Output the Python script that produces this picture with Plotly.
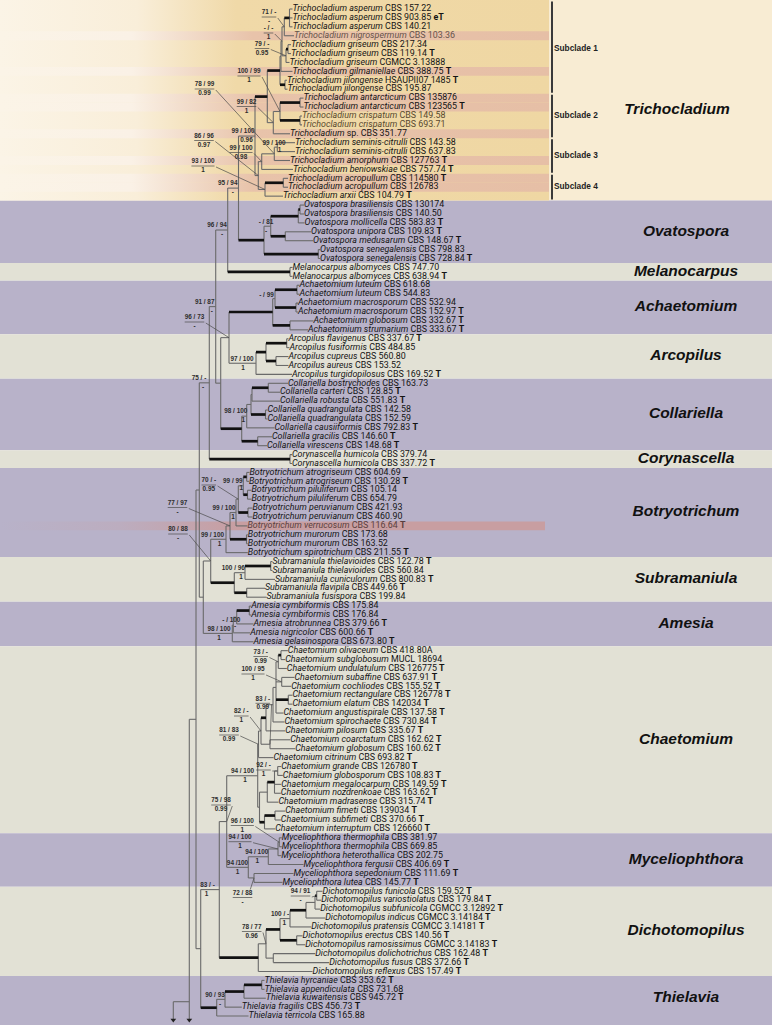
import plotly.graph_objects as go

# ---------------- data ----------------
taxa = [
    "Trichocladium asperum", "Trichocladium asperum", "Trichocladium asperum", "Trichocladium nigrospermum",
    "Trichocladium griseum", "Trichocladium griseum", "Trichocladium griseum", "Trichocladium gilmaniellae",
    "Trichocladium jilongense", "Trichocladium jilongense", "Trichocladium antarcticum", "Trichocladium antarcticum",
    "Trichocladium crispatum", "Trichocladium crispatum", "Trichocladium sp.", "Trichocladium seminis-citrulli",
    "Trichocladium seminis-citrulli", "Trichocladium amorphum", "Trichocladium beniowskiae", "Trichocladium acropullum",
    "Trichocladium acropullum", "Trichocladium arxii",
    "Ovatospora brasiliensis", "Ovatospora brasiliensis", "Ovatospora mollicella", "Ovatospora unipora",
    "Ovatospora medusarum", "Ovatospora senegalensis", "Ovatospora senegalensis",
    "Melanocarpus albomyces", "Melanocarpus albomyces",
    "Achaetomium luteum", "Achaetomium luteum", "Achaetomium macrosporum", "Achaetomium macrosporum",
    "Achaetomium globosum", "Achaetomium strumarium",
    "Arcopilus flavigenus", "Arcopilus fusiformis", "Arcopilus cupreus", "Arcopilus aureus", "Arcopilus turgidopilosus",
    "Collariella bostrychodes", "Collariella carteri", "Collariella robusta", "Collariella quadrangulata",
    "Collariella quadrangulata", "Collariella causiiformis", "Collariella gracilis", "Collariella virescens",
    "Corynascella humicola", "Corynascella humicola",
    "Botryotrichum atrogriseum", "Botryotrichum atrogriseum", "Botryotrichum piluliferum", "Botryotrichum piluliferum",
    "Botryotrichum peruvianum", "Botryotrichum peruvianum", "Botryotrichum verrucosum", "Botryotrichum murorum",
    "Botryotrichum murorum", "Botryotrichum spirotrichum",
    "Subramaniula thielavioides", "Subramaniula thielavioides", "Subramaniula cuniculorum", "Subramaniula flavipila",
    "Subramaniula fusispora",
    "Amesia cymbiformis", "Amesia cymbiformis", "Amesia atrobrunnea", "Amesia nigricolor", "Amesia gelasinospora",
    "Chaetomium olivaceum", "Chaetomium subglobosum", "Chaetomium undulatulum", "Chaetomium subaffine",
    "Chaetomium cochliodes", "Chaetomium rectangulare", "Chaetomium elatum", "Chaetomium angustispirale",
    "Chaetomium spirochaete", "Chaetomium pilosum", "Chaetomium coarctatum", "Chaetomium globosum",
    "Chaetomium citrinum", "Chaetomium grande", "Chaetomium globosporum", "Chaetomium megalocarpum",
    "Chaetomium nozdrenkoae", "Chaetomium madrasense", "Chaetomium fimeti", "Chaetomium subfimeti",
    "Chaetomium interruptum",
    "Myceliophthora thermophila", "Myceliophthora thermophila", "Myceliophthora heterothallica",
    "Myceliophthora fergusii", "Myceliophthora sepedonium", "Myceliophthora lutea",
    "Dichotomopilus funicola", "Dichotomopilus variostiolatus", "Dichotomopilus subfunicola", "Dichotomopilus indicus",
    "Dichotomopilus pratensis", "Dichotomopilus erectus", "Dichotomopilus ramosissimus", "Dichotomopilus dolichotrichus",
    "Dichotomopilus fusus", "Dichotomopilus reflexus",
    "Thielavia hyrcaniae", "Thielavia appendiculata", "Thielavia kuwaitensis", "Thielavia fragilis", "Thielavia terricola",
]
strains = [
    "CBS 157.22", "CBS 903.85", "CBS 140.21", "CBS 103.36", "CBS 217.34", "CBS 119.14", "CGMCC 3.13888",
    "CBS 388.75", "HSAUPII07 1485", "CBS 195.87", "CBS 135876", "CBS 123565", "CBS 149.58", "CBS 693.71",
    "CBS 351.77", "CBS 143.58", "CBS 637.83", "CBS 127763", "CBS 757.74", "CBS 114580", "CBS 126783", "CBS 104.79",
    "CBS 130174", "CBS 140.50", "CBS 583.83", "CBS 109.83", "CBS 148.67", "CBS 798.83", "CBS 728.84",
    "CBS 747.70", "CBS 638.94",
    "CBS 618.68", "CBS 544.83", "CBS 532.94", "CBS 152.97", "CBS 332.67", "CBS 333.67",
    "CBS 337.67", "CBS 484.85", "CBS 560.80", "CBS 153.52", "CBS 169.52",
    "CBS 163.73", "CBS 128.85", "CBS 551.83", "CBS 142.58", "CBS 152.59", "CBS 792.83", "CBS 146.60", "CBS 148.68",
    "CBS 379.74", "CBS 337.72",
    "CBS 604.69", "CBS 130.28", "CBS 105.14", "CBS 654.79", "CBS 421.93", "CBS 460.90", "CBS 116.64",
    "CBS 173.68", "CBS 163.52", "CBS 211.55",
    "CBS 122.78", "CBS 560.84", "CBS 800.83", "CBS 449.66", "CBS 199.84",
    "CBS 175.84", "CBS 176.84", "CBS 379.66", "CBS 600.66", "CBS 673.80",
    "CBS 418.80A", "MUCL 18694", "CBS 126775", "CBS 637.91", "CBS 155.52", "CBS 126778", "CBS 142034",
    "CBS 137.58", "CBS 730.84", "CBS 335.67", "CBS 162.62", "CBS 160.62", "CBS 693.82", "CBS 126780",
    "CBS 108.83", "CBS 149.59", "CBS 163.62", "CBS 315.74", "CBS 139034", "CBS 370.66", "CBS 126660",
    "CBS 381.97", "CBS 669.85", "CBS 202.75", "CBS 406.69", "CBS 111.69", "CBS 145.77",
    "CBS 159.52", "CBS 179.84", "CGMCC 3.12892", "CGMCC 3.14184", "CGMCC 3.14181", "CBS 140.56",
    "CGMCC 3.14183", "CBS 162.48", "CBS 372.66", "CBS 157.49",
    "CBS 353.62", "CBS 731.68", "CBS 945.72", "CBS 456.73", "CBS 165.88",
]
marks = [
    "", "eT", "", "", "", "T", "", "T", "T", "", "", "T", "", "", "", "", "", "T", "T", "T", "", "T",
    "", "", "T", "T", "T", "", "T",
    "", "T",
    "", "", "", "T", "T", "T",
    "T", "", "", "", "T",
    "", "T", "T", "", "", "T", "T", "T",
    "", "T",
    "", "T", "", "", "", "", "T", "", "", "T",
    "T", "", "T", "T", "",
    "", "", "T", "T", "T",
    "", "", "T", "T", "T", "T", "T", "T", "T", "T", "T", "T", "T", "T", "T", "T", "T", "T", "T", "T", "T",
    "", "", "", "T", "T", "T",
    "T", "T", "T", "T", "T", "T", "T", "T", "T", "T",
    "T", "", "T", "T", "",
]
# tip depth of each terminal branch (tree units)
tip_depth = [
    292.5, 292.5, 292.5, 294, 291, 291, 289.5, 292.5, 287, 287.5, 303.5, 303.5, 302, 302, 290, 295, 295, 290,
    293, 288, 288, 283,
    304, 304, 304.5, 311, 313, 320, 320,
    292.5, 292.5,
    299.5, 299.5, 298, 298, 313.5, 308,
    288.5, 289.5, 288.5, 288.5, 292,
    288, 280, 280, 267.5, 267.5, 274.5, 272, 267,
    292, 292,
    249.5, 249, 251.5, 251.5, 252.5, 252.5, 247.5, 247.8, 247.8, 247.8,
    272.5, 272.5, 275, 265, 266.5,
    251.2, 251.2, 253.5, 250.2, 253.5,
    287.8, 285.2, 286.8, 294.5, 291.2, 292.5, 292.5, 283.5, 284.5, 285.2, 290.2, 295.2, 273.5, 281.2, 282.8,
    281.2, 280.8, 278.5, 285.2, 280.8, 275.2,
    281.8, 281.8, 281.2, 303.5, 293.5, 282.5,
    322.5, 321.2, 320.2, 325.2, 311.2, 302.5, 305.2, 315.2, 329.2, 312.5,
    264.5, 264.5, 265.8, 241.8, 248.5,
]
# internal nodes: name, depth, children (ints = terminal index)
node_names = [
    "asp", "A", "g56", "G", "AG", "AGg", "jil", "S1u", "ant", "cri", "S2", "Y", "S12", "sem", "S3a", "S3",
    "acr", "S4", "N34", "T0",
    "bra", "BM", "UM", "BMUM", "sen", "Ov", "TO", "mel", "N95",
    "lu", "ma", "LM", "GS", "Ach", "ff", "ca", "FFCA", "Arc", "AA",
    "bc", "BCR", "qu", "BCRQ", "U", "gv", "Coll", "NAAC", "N96", "cor", "N91",
    "at", "pl", "ATPL", "pe", "APP", "APPV", "mu", "APPVM", "Bot",
    "tt", "TTC", "ff2", "Sub", "BS", "cy", "CYA", "CYAN", "Ame", "N80", "N75",
    "os", "OSU", "sc", "re", "TG", "TG2", "TG3", "cg", "TG4", "TG5", "gg", "GGMN", "LG1", "fs", "LG2", "LG", "Cha",
    "tm", "TH", "THF", "SL", "Myc", "N75b",
    "fv", "FVS", "FVSI", "FVSIP", "er", "UP", "df", "N78", "Dic", "N219",
    "ha", "HAK", "HAKF", "Thi", "N83", "NA",
]
node_depth = [
    289.5, 284.3, 288, 286, 282, 281, 285, 280, 300, 300, 280, 273.3, 267.3, 277.3, 274.3, 261.7,
    283.3, 265, 258.3, 255,
    300, 298.3, 285.3, 270.7, 318.3, 264, 238.5, 290, 227.7,
    297, 296, 275, 290, 272.7, 286.7, 276, 266, 256, 229,
    268.3, 252, 265.5, 251, 246.7, 257.7, 241.7, 220.7, 215.7, 290, 209.3,
    246.7, 247.5, 243.3, 248, 238.3, 236, 246.5, 230, 226,
    270.7, 245, 246.7, 234.3, 210.7, 249.3, 236.7, 233.3, 232.3, 203.3, 199.3,
    281, 278.3, 281.7, 288.3, 276, 273, 266, 270, 261, 258.5, 277.7, 274.5, 267.3, 275, 264.5, 259.5, 257.7,
    279.3, 278, 268.3, 254, 248.3, 226.7,
    316.7, 315, 306, 290, 296.7, 280, 273.3, 266, 258.3, 219.3,
    261.7, 244, 225, 216.7, 200.7, 196,
]
node_children = [
    [0, 1, 2], ["asp", 3], [4, 5], ["g56", 6], ["A", "G"], ["AG", 7], [8, 9], ["AGg", "jil"], [10, 11], [12, 13],
    ["ant", "cri"], ["S2", 14], ["S1u", "Y"], [15, 16], ["sem", 17], ["S3a", 18], [19, 20], ["acr", 21],
    ["S3", "S4"], ["S12", "N34"],
    [22, 23], ["bra", 24], [25, 26], ["BM", "UM"], [27, 28], ["BMUM", "sen"], ["T0", "Ov"], [29, 30], ["TO", "mel"],
    [31, 32], [33, 34], ["lu", "ma"], [35, 36], ["LM", "GS"], [37, 38], [39, 40], ["ff", "ca"], ["FFCA", 41],
    ["Ach", "Arc"],
    [42, 43], ["bc", 44], [45, 46], ["BCR", "qu"], ["BCRQ", 47], [48, 49], ["U", "gv"], ["AA", "Coll"],
    ["N95", "NAAC"], [50, 51], ["N96", "cor"],
    [52, 53], [54, 55], ["at", "pl"], [56, 57], ["ATPL", "pe"], ["APP", 58], [59, 60], ["APPV", "mu"],
    ["APPVM", 61],
    [62, 63], ["tt", 64], [65, 66], ["TTC", "ff2"], ["Bot", "Sub"], [67, 68], ["cy", 69], ["CYA", 70],
    ["CYAN", 71], ["BS", "Ame"], ["N91", "N80"],
    [72, 73], ["os", 74], [75, 76], [77, 78], ["OSU", "sc", "re", 79], ["TG", 80], ["TG2", 81], [82, 83],
    ["TG3", "cg"], ["TG4", 84], [85, 86], ["gg", 87, 88], ["GGMN", 89], [90, 91], ["fs", 92], ["LG1", "LG2"],
    ["TG5", "LG"],
    [93, 94], ["tm", 95], ["TH", 96], [97, 98], ["THF", "SL"], ["Cha", "Myc"],
    [99, 100], ["fv", 101], ["FVS", 102], ["FVSI", 103], [104, 105], ["FVSIP", "er"], [106, 107], ["UP", "df"],
    ["N78", 108], ["N75b", "Dic"],
    [109, 110], ["ha", 111], ["HAK", 112], ["HAKF", 113], ["N219", "Thi"], ["N75", "N83"],
]
root_depth = 189.3
outgroup_depth = 173.3
# strongly supported (thick) branches, named by the node/terminal they lead to
thick_branches = {
    "asp", "g56", "jil", "S1u", "ant", "cri", "S12", "acr",
    "Ov", "BM", "bra", "UM", "sen", "mel",
    "Ach", "lu", "ma", "GS", "ff", "ca", "FFCA",
    "Coll", "bc", "qu", "gv", "cor",
    "at", "pl", "pe", "mu", "Sub", "tt", "ff2", "cy",
    "os", "re", "TG3", "GGMN", "fs", "LG2",
    "Dic", "FVSI", "UP", "er", "fv", "Thi", "HAK", "ha",
}
genera = ["Trichocladium", "Ovatospora", "Melanocarpus", "Achaetomium", "Arcopilus", "Collariella",
          "Corynascella", "Botryotrichum", "Subramaniula", "Amesia", "Chaetomium", "Myceliophthora",
          "Dichotomopilus", "Thielavia"]
genus_sizes = [22, 7, 2, 6, 5, 8, 2, 10, 5, 5, 21, 6, 10, 5]
subclades = ["Subclade 1", "Subclade 2", "Subclade 3", "Subclade 4"]
subclade_sizes = [10, 5, 4, 3]
highlight_rows = [3, 7, 10, 11, 14, 17, 19, 20]
highlight_rows_purple = [58]
# support values: node, "ML / MP" (top), posterior (bottom)
support_nodes = ["A", "AG", "G", "S2", "S3a", "Y", "T0", "N34", "S3", "sem", "S4", "TO", "N95", "BMUM", "N96",
                 "LM", "AA", "Arc", "N91", "U", "APP", "ATPL", "APPV", "APPVM", "Bot", "BS", "TTC", "CYA", "Ame",
                 "OSU", "sc", "cg", "TG4", "TG5", "gg", "Cha", "N75b", "tm", "TH", "THF", "Myc", "SL", "N219",
                 "fv", "FVSIP", "N78", "HAKF"]
support_top = ["71 / -", "- / -", "79 / -", "100 / 99", "78 / 99", "99 / 82", "99 / 100", "86 / 96", "99 / 100",
               "99 / 100", "93 / 100", "95 / 94", "96 / 94", "- / 81", "91 / 87",
               "- / 99", "96 / 73", "97 / 100", "75 / -", "98 / 100", "70 / -", "99 / 99", "99 / 100", "77 / 97",
               "99 / 100", "80 / 88", "100 / 96", "- / 100", "98 / 100",
               "73 / -", "100 / 95", "83 / -", "82 / -", "81 / 83", "92 / -", "94 / 100", "75 / 98", "96 / 100",
               "94 / 100", "94 / 100", "94 /100", "72 / 88", "83 / -",
               "94 / 91", "100 / -", "78 / 77", "90 / 93"]
support_bottom = ["-", "1", "0.95", "1", "0.99", "1", "0.96", "0.97", "0.98",
                  "1", "1", "-", "-", "-", "-",
                  "", "-", "1", "-", "1", "0.95", "1", "1", "-",
                  "1", "-", "1", "-", "1",
                  "0.99", "1", "0.99", "1", "0.99", "1", "1", "0.99", "1",
                  "1", "1", "1", "-", "1",
                  "-", "1", "0.96", "-"]

# ---------------- placement / style (not data) ----------------
W, H = 772, 1025
ROW0, ROWSTEP = 9.0, 8.912
FONT = "Liberation Sans, Arial, sans-serif"
TAXON_FONT = "Roboto, Arial, sans-serif"
PURPLE, BEIGE = "#b8b2c9", "#e2e1d5"
TRICH_RIGHT = "#f8ecd3"
TEXT_COL = "#141414"
TAXON_FS = 8.9
special_text_col = {3: "#66524a", 12: "#58492e", 13: "#58492e", 58: "#5a3e3e"}
label_place = {  # kind, cx, cy, bottom dx (or bottom x,y for free labels)
    "A": ("leader", 269, 17), "AG": ("leader", 268.5, 33), "G": ("leader", 262, 48.5),
    "S2": ("leader", 249, 76), "S3a": ("leader", 204.5, 89), "Y": ("leader", 246.5, 106.5),
    "T0": ("branch", 243, 3.5), "N34": ("leader", 204, 140.5), "S3": ("leader", 241, 152.5),
    "sem": ("free", 274, 143.5, 279.5, 150.5), "S4": ("leader", 203, 166),
    "TO": ("branch", 227.7, 5), "N95": ("branch", 217, 5), "BMUM": ("branch", 266, 0),
    "N96": ("branch", 204.7, 7), "LM": ("free", 266.5, 295, 0, 0), "AA": ("leader", 194.5, 322),
    "Arc": ("branch", 242, 1), "N91": ("branch", 199, 4), "U": ("branch", 235.8, 7.5),
    "APP": ("leader", 208.8, 485), "ATPL": ("free", 232.8, 481, 241.3, 488.5), "APPV": ("branch", 224, 9),
    "APPVM": ("leader", 177.5, 507.5), "Bot": ("branch", 212.5, 7), "BS": ("leader", 178, 534),
    "TTC": ("branch", 233.3, 7.7), "CYA": ("free", 231.3, 620, 235, 626), "Ame": ("branch", 219, 0),
    "OSU": ("leader", 260.7, 656.5), "sc": ("leader", 253, 674), "cg": ("leader", 262.8, 703.3),
    "TG4": ("leader", 241.3, 716), "TG5": ("leader", 229, 735), "gg": ("leader", 263.5, 770),
    "Cha": ("branch", 242.5, 2.5), "N75b": ("leader", 221, 805), "tm": ("leader", 242.3, 825.5),
    "TH": ("leader", 240, 841.7), "THF": ("branch", 256.7, 0.6), "Myc": ("branch", 237.5, 0),
    "SL": ("leader", 242.5, 897.5), "N219": ("branch", 207.5, -1), "fv": ("leader", 300.5, 896),
    "FVSIP": ("branch", 280, 4.3), "N78": ("leader", 251.7, 931.5), "HAKF": ("branch", 215, 5),
}

# ---------------- scales ----------------
row_y = [ROW0 + i * ROWSTEP for i in range(len(taxa))]
nidx = {n: i for i, n in enumerate(node_names)}
_ycache = {}


def ypos(c):
    if isinstance(c, int):
        return row_y[c]
    if c not in _ycache:
        ys = [ypos(k) for k in node_children[nidx[c]]]
        _ycache[c] = (min(ys) + max(ys)) / 2
    return _ycache[c]


def xpos(c):
    return tip_depth[c] if isinstance(c, int) else node_depth[nidx[c]]


fig = go.Figure()
shapes = []

# ---------------- background bands ----------------
start = 0
band_bounds = []
for gi, n in enumerate(genus_sizes):
    y0 = 0 if gi == 0 else row_y[start] - ROWSTEP / 2
    y1 = H if gi == len(genus_sizes) - 1 else row_y[start + n - 1] + ROWSTEP / 2
    band_bounds.append((y0, y1))
    if gi == 0:
        col = TRICH_RIGHT
    else:
        col = PURPLE if gi % 2 == 1 else BEIGE
    shapes.append(dict(type="rect", xref="x", yref="y", x0=0, x1=W, y0=y0, y1=y1,
                       fillcolor=col, line=dict(width=0), layer="below"))
    start += n

ty0, ty1 = band_bounds[0]
GX1 = 549
fig.add_trace(go.Scatter(
    x=[0, GX1, GX1, 0, 0], y=[ty0, ty0, ty1, ty1, ty0], mode="lines", line=dict(width=0),
    fill="toself", fillgradient=dict(type="horizontal", colorscale=[
        [0, "#fbf4e6"], [0.25, "#f9eed9"], [0.43, "#f0d9a8"], [1, "#efd7a3"]]),
    hoverinfo="skip", showlegend=False))
for r in highlight_rows:
    a, b = row_y[r] - ROWSTEP / 2, row_y[r] + ROWSTEP / 2
    fig.add_trace(go.Scatter(
        x=[0, GX1, GX1, 0, 0], y=[a, a, b, b, a], mode="lines", line=dict(width=0),
        fill="toself", fillgradient=dict(type="horizontal", colorscale=[
            [0, "#fbf4e7"], [0.24, "#faf1e6"], [0.46, "#e8c3aa"], [1, "#e6bfa6"]]),
        hoverinfo="skip", showlegend=False))
for r in highlight_rows_purple:
    a, b = row_y[r] - ROWSTEP / 2, row_y[r] + ROWSTEP / 2
    fig.add_trace(go.Scatter(
        x=[0, 545, 545, 0, 0], y=[a, a, b, b, a], mode="lines", line=dict(width=0),
        fill="toself", fillgradient=dict(type="horizontal", colorscale=[
            [0, "rgba(200,158,161,0)"], [0.22, "rgba(200,158,161,0.25)"], [0.44, "rgba(200,158,161,1)"],
            [1, "rgba(200,158,161,1)"]]),
        hoverinfo="skip", showlegend=False))

# ---------------- tree ----------------
thin_x, thin_y, thick_x, thick_y = [], [], [], []
for n in node_names:
    x = xpos(n)
    ch = node_children[nidx[n]]
    ys = [ypos(c) for c in ch]
    thin_x += [x, x, None]
    thin_y += [min(ys), max(ys), None]
    for c in ch:
        cy = ypos(c)
        if c in thick_branches:
            thick_x += [x, xpos(c), None]
            thick_y += [cy, cy, None]
        else:
            thin_x += [x, xpos(c), None]
            thin_y += [cy, cy, None]
# root and off-page outgroups
top = node_names[-1]
ARROW_Y = 1019
OUT_Y = 1001.7
thin_x += [root_depth, xpos(top), None, root_depth, root_depth, None,
           outgroup_depth, root_depth, None, outgroup_depth, outgroup_depth, None]
thin_y += [ypos(top), ypos(top), None, ypos(top), ARROW_Y, None,
           OUT_Y, OUT_Y, None, OUT_Y, ARROW_Y, None]

fig.add_trace(go.Scatter(x=thin_x, y=thin_y, mode="lines", line=dict(color="#6a6a6a", width=1.1),
                         hoverinfo="skip", showlegend=False))
fig.add_trace(go.Scatter(x=thick_x, y=thick_y, mode="lines", line=dict(color="#111111", width=2.7),
                         hoverinfo="skip", showlegend=False))
fig.add_trace(go.Scatter(x=[root_depth, outgroup_depth], y=[ARROW_Y + 1, ARROW_Y + 1], mode="markers",
                         marker=dict(symbol="triangle-down", size=5, color="#222222"),
                         hoverinfo="skip", showlegend=False))

# ---------------- support labels ----------------
CW = {"/": .278, " ": .278, "-": .333, ".": .278}
SFS = 6.4


def text_w(s):
    return sum(CW.get(ch, .556) for ch in s) * SFS


sx, sy, st = [], [], []
ux, uy = [], []
for n, tp, bt in zip(support_nodes, support_top, support_bottom):
    pl = label_place[n]
    kind = pl[0]
    if kind == "branch":
        cx, bdx = pl[1], pl[2]
        cy = ypos(n)
        sx += [cx, cx + bdx]
        sy += [cy - 4.3, cy + 4.7]
        st += [tp, bt]
    elif kind == "free":
        cx, yt, bx, yb = pl[1], pl[2], pl[3], pl[4]
        sx += [cx, bx]
        sy += [yt, yb]
        st += [tp, bt]
    else:
        cx, cy = pl[1], pl[2]
        w = text_w(tp)
        sx += [cx, cx]
        sy += [cy - 4.1, cy + 4.5]
        st += [tp, bt]
        ux += [cx - w / 2, cx + w / 2, None]
        uy += [cy, cy, None]
        nxp, nyp = xpos(n), ypos(n)
        if nyp < cy - 5:
            ux += [cx + w / 2 - 2, nxp, None]
            uy += [cy - 8, nyp, None]
        else:
            ux += [cx + w / 2 + 1.5, nxp, None]
            uy += [cy + 1, nyp, None]

fig.add_trace(go.Scatter(x=ux, y=uy, mode="lines", line=dict(color="#4a4a4a", width=0.7),
                         hoverinfo="skip", showlegend=False))
fig.add_trace(go.Scatter(x=sx, y=sy, mode="text", text=[f"<b>{t}</b>" if t else "" for t in st],
                         textposition="middle center",
                         textfont=dict(family=FONT, size=SFS, color="#2e2e2e"),
                         hoverinfo="skip", showlegend=False))

# ---------------- taxon labels ----------------


def taxon_html(name, strain, mark):
    genus, species = name.split(" ", 1)
    s = f"<i>{genus}</i> sp." if species == "sp." else f"<i>{name}</i>"
    s += f" {strain}"
    if mark:
        s += f" <b>{mark}</b>"
    return s


fig.add_trace(go.Scatter(
    x=tip_depth, y=row_y, mode="text",
    text=[taxon_html(n, s, m) for n, s, m in zip(taxa, strains, marks)],
    textposition="middle right",
    textfont=dict(family=TAXON_FONT, size=TAXON_FS,
                  color=[special_text_col.get(i, TEXT_COL) for i in range(len(taxa))]),
    hoverinfo="skip", showlegend=False))

# ---------------- subclade brackets ----------------
BX = 552
bx, by, lx, ly, lt = [], [], [], [], []
start = 0
for name, n in zip(subclades, subclade_sizes):
    a = row_y[start] - ROWSTEP / 2 + 1 if start > 0 else 1.5
    b = row_y[start + n - 1] + ROWSTEP / 2 - 1
    bx += [BX, BX, None]
    by += [a, b, None]
    lx.append(BX + 2)
    ly.append((row_y[start] + row_y[start + n - 1]) / 2)
    lt.append(f"<b>{name}</b>")
    start += n
fig.add_trace(go.Scatter(x=bx, y=by, mode="lines", line=dict(color="#3a3a3a", width=2),
                         hoverinfo="skip", showlegend=False))
fig.add_trace(go.Scatter(x=lx, y=ly, mode="text", text=lt, textposition="middle right",
                         textfont=dict(family=FONT, size=8.3, color="#222222"),
                         hoverinfo="skip", showlegend=False))

# ---------------- genus labels ----------------
gx, gy, gt = [], [], []
for gi, g in enumerate(genera):
    y0, y1 = band_bounds[gi]
    if gi == 0:
        gx.append(677)
        gy.append((y0 + y1) / 2 + 10)
    else:
        gx.append(686)
        gy.append((y0 + y1) / 2 if gi < len(genera) - 1 else (y0 + row_y[-1] + ROWSTEP / 2) / 2)
    gt.append(f"<b><i>{g}</i></b>")
fig.add_trace(go.Scatter(x=gx, y=gy, mode="text", text=gt, textposition="middle center",
                         textfont=dict(family=FONT, size=15.5, color="#111111"),
                         hoverinfo="skip", showlegend=False))

fig.update_layout(
    width=W, height=H, margin=dict(l=0, r=0, t=0, b=0),
    paper_bgcolor="white", plot_bgcolor="white", showlegend=False, shapes=shapes,
    xaxis=dict(range=[0, W], visible=False, fixedrange=True),
    yaxis=dict(range=[H, 0], visible=False, fixedrange=True),
)
fig.write_html("out.html", config={"displayModeBar": False},
               post_script="document.body.style.margin='0';document.body.style.overflow='hidden';")
